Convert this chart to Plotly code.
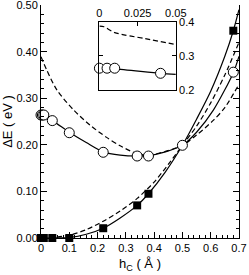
import plotly.graph_objects as go

# ---- main panel data ----
circ_x = [0, 0.005, 0.01, 0.04, 0.1, 0.22, 0.34, 0.38, 0.5, 0.68]
circ_y = [0.264, 0.264, 0.264, 0.252, 0.226, 0.184, 0.176, 0.176, 0.199, 0.356]

sq_x = [0, 0.005, 0.01, 0.04, 0.1, 0.22, 0.34, 0.38, 0.68]
sq_y = [0.0, 0.0, 0.0, 0.0, 0.0, 0.021, 0.070, 0.095, 0.445]

# solid curve through circles
cs_x = [0, 0.04, 0.1, 0.16, 0.22, 0.28, 0.34, 0.38, 0.44, 0.5, 0.55, 0.61, 0.68, 0.7]
cs_y = [0.264, 0.252, 0.227, 0.205, 0.185, 0.178, 0.176, 0.177, 0.185, 0.199, 0.227, 0.275, 0.355, 0.39]

# dashed curve (circle state)
cd_x = [0, 0.02, 0.056, 0.115, 0.174, 0.232, 0.28, 0.34, 0.38, 0.44, 0.5, 0.55, 0.61, 0.65, 0.7]
cd_y = [0.389, 0.361, 0.318, 0.275, 0.242, 0.216, 0.198, 0.181, 0.178, 0.186, 0.199, 0.221, 0.253, 0.28, 0.33]

# solid curve through squares
ss_x = [0, 0.04, 0.1, 0.16, 0.22, 0.28, 0.34, 0.38, 0.44, 0.5, 0.55, 0.6, 0.65, 0.68, 0.7]
ss_y = [0.0, 0.0, 0.001, 0.008, 0.021, 0.043, 0.070, 0.095, 0.142, 0.199, 0.255, 0.315, 0.39, 0.445, 0.49]

# dashed curve (square state)
sd_x = [0, 0.04, 0.1, 0.16, 0.22, 0.28, 0.34, 0.4, 0.45, 0.5, 0.55, 0.6, 0.65, 0.7]
sd_y = [0.0, 0.001, 0.006, 0.018, 0.036, 0.058, 0.085, 0.12, 0.158, 0.199, 0.24, 0.29, 0.35, 0.42]

# ---- inset data ----
in_circ_x = [0, 0.005, 0.01, 0.04]
in_circ_y = [0.264, 0.264, 0.264, 0.249]
in_sol_x = [0, 0.01, 0.04, 0.05]
in_sol_y = [0.264, 0.262, 0.249, 0.246]
in_dash_x = [0, 0.003, 0.01, 0.03, 0.05]
in_dash_y = [0.388, 0.386, 0.369, 0.351, 0.334]

x_ticks = [0, 0.1, 0.2, 0.3, 0.4, 0.5, 0.6, 0.7]
y_ticks = [0.0, 0.1, 0.2, 0.3, 0.4, 0.5]
in_x_ticks = [0, 0.025, 0.05]
in_x_labels = ["0", "0.025", "0.05"]
in_y_ticks = [0.2, 0.3, 0.4]

FONT = "Liberation Sans, Arial, sans-serif"
LW = 1.2
DASH = "5px,3px"

fig = go.Figure()

def line(x, y, dash, xa="x", ya="y"):
    fig.add_trace(go.Scatter(x=x, y=y, mode="lines", xaxis=xa, yaxis=ya,
                             line=dict(color="black", width=LW, dash=dash, shape="spline", smoothing=0.8),
                             showlegend=False, hoverinfo="skip", cliponaxis=True))

line(cs_x, cs_y, "solid")
line(cd_x, cd_y, DASH)
line(ss_x, ss_y, "solid")
line(sd_x, sd_y, DASH)

fig.add_trace(go.Scatter(x=sq_x, y=sq_y, mode="markers", cliponaxis=False,
                         marker=dict(symbol="square", size=8, color="black"),
                         showlegend=False))
fig.add_trace(go.Scatter(x=circ_x, y=circ_y, mode="markers", cliponaxis=False,
                         marker=dict(symbol="circle", size=10, color="white",
                                     line=dict(color="black", width=1)),
                         showlegend=False))

# inset
line(in_sol_x, in_sol_y, "solid", "x2", "y2")
line(in_dash_x, in_dash_y, DASH, "x2", "y2")
fig.add_trace(go.Scatter(x=in_circ_x, y=in_circ_y, mode="markers", xaxis="x2", yaxis="y2",
                         cliponaxis=False,
                         marker=dict(symbol="circle", size=10, color="white",
                                     line=dict(color="black", width=1)),
                         showlegend=False))

axis_common = dict(showgrid=False, zeroline=False, showline=True, linecolor="black",
                   linewidth=1, ticks="inside", tickcolor="black", tickwidth=1,
                   tickfont=dict(family=FONT, size=11, color="black"),
                   ticklabeloverflow="allow")

fig.update_layout(
    width=249, height=275,
    margin=dict(l=41, r=10, t=5, b=37, autoexpand=False),
    paper_bgcolor="white", plot_bgcolor="white",
    font=dict(family=FONT, size=11, color="black"),
    xaxis=dict(**axis_common, range=[0, 0.7001], domain=[0, 1],
               tickvals=x_ticks, ticktext=[("0" if v == 0 else f"{v:g}") for v in x_ticks],
               ticklen=6, mirror=False, automargin=False,
               minor=dict(dtick=0.02, ticks="inside", ticklen=3, tickcolor="black"),
               title=dict(text="h<sub>C</sub> ( Å )", font=dict(family=FONT, size=13), standoff=5)),
    yaxis=dict(**axis_common, range=[0, 0.5002], domain=[0, 1],
               tickvals=y_ticks, ticktext=[f"{v:.2f}" for v in y_ticks],
               ticklen=6, mirror="ticks", automargin=False,
               minor=dict(dtick=0.02, ticks="inside", ticklen=3, tickcolor="black"),
               title=dict(text="ΔE ( eV )", font=dict(family=FONT, size=13), standoff=4)),
    xaxis2=dict(**axis_common, range=[0, 0.05001], domain=[0.295, 0.681], anchor="y2",
                side="top", tickvals=in_x_ticks, ticktext=in_x_labels, ticklen=4,
                mirror=True, automargin=False),
    yaxis2=dict(**axis_common, range=[0.2, 0.4001], domain=[0.6355, 0.927], anchor="x2",
                side="right", tickvals=in_y_ticks, ticktext=[f"{v:g}" for v in in_y_ticks],
                ticklen=4, mirror="ticks", automargin=False),
)

fig.write_html("out.html", config={"displayModeBar": False},
               post_script="document.body.style.margin='0';document.body.style.padding='0';")
